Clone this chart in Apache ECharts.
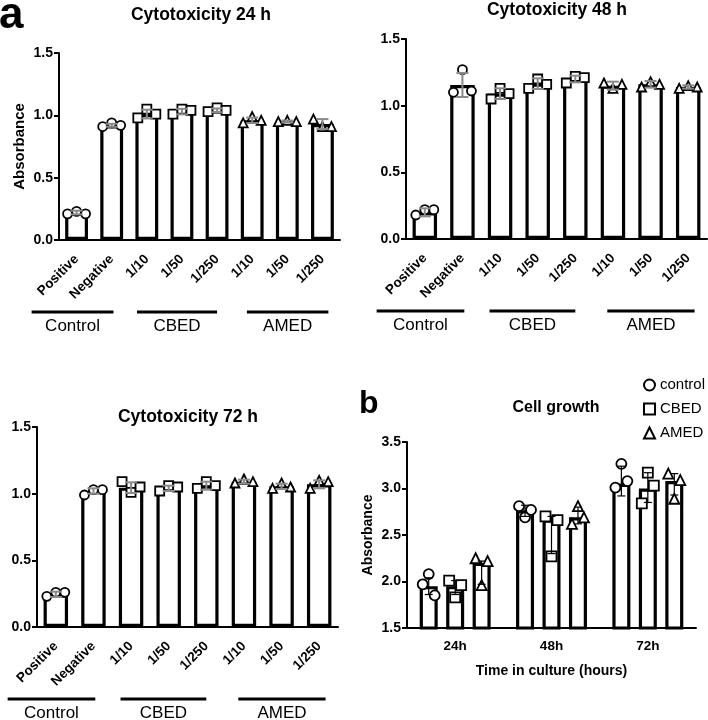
<!DOCTYPE html>
<html><head><meta charset="utf-8">
<script src="https://cdn.jsdelivr.net/npm/echarts@6/dist/echarts.min.js"></script>
<style>html,body{margin:0;padding:0;background:#fff}#c{width:708px;height:720px}</style>
</head><body><div id="c"></div>
<script>
// ---------- data ----------
const cytoCategories = ['Positive','Negative','1/10','1/50','1/250','1/10','1/50','1/250'];
const cytoGroupNames = ['Control','CBED','AMED'];
const cytoGroupOfCategory = [0,0,1,1,1,2,2,2];
const cytoTitles = ['Cytotoxicity 24 h','Cytotoxicity 48 h','Cytotoxicity 72 h'];
const cytoYTicks = [0, 1.5, 0.5];

const mean24 = [0.22, 0.92, 1.01, 1.03, 1.04, 0.96, 0.95, 0.93];
const sd24   = [0.015,0.012,0.035,0.022,0.015,0.022,0.008,0.04];
const pts24  = [[0.21,0.23,0.21],[0.91,0.94,0.92],[0.98,1.05,1.01],[1.01,1.05,1.04],[1.03,1.06,1.04],[0.94,0.99,0.96],[0.95,0.96,0.95],[0.97,0.91,0.91]];

const mean48 = [0.20, 1.155, 1.09, 1.165, 1.20, 1.15, 1.16, 1.14];
const sd48   = [0.03, 0.09, 0.04, 0.04, 0.025, 0.03, 0.025, 0.012];
const pts48  = [[0.18,0.22,0.22],[1.10,1.27,1.11],[1.05,1.13,1.09],[1.13,1.20,1.16],[1.17,1.22,1.21],[1.17,1.13,1.16],[1.14,1.18,1.16],[1.13,1.15,1.14]];

const mean72 = [0.245, 1.02, 1.045, 1.04, 1.06, 1.09, 1.055, 1.07];
const sd72   = [0.02, 0.02, 0.04, 0.02, 0.03, 0.015, 0.02, 0.03];
const pts72  = [[0.23,0.26,0.26],[0.99,1.03,1.03],[1.09,1.01,1.05],[1.02,1.06,1.05],[1.04,1.09,1.06],[1.08,1.11,1.09],[1.04,1.08,1.05],[1.04,1.10,1.09]];

const growthTimes = ['24h','48h','72h'];
const growthGroups = ['control','CBED','AMED'];
const growthMean = { control:[1.95, 2.765, 3.05], CBED:[1.95, 2.665, 3.00], AMED:[2.20, 2.69, 3.08] };
const growthLo   = { control:[1.86, 2.70, 2.92], CBED:[1.86, 2.30, 2.85], AMED:[1.97, 2.62, 2.93] };
const growthHi   = { control:[2.04, 2.82, 3.24], CBED:[2.01, 2.70, 3.17], AMED:[2.22, 2.80, 3.16] };
const growthPts  = {
  control:[[1.97,2.08,1.85],[2.81,2.69,2.77],[3.01,3.265,3.08]],
  CBED:   [[2.01,1.83,1.96],[2.70,2.27,2.66],[2.84,3.17,3.03]],
  AMED:   [[2.25,1.96,2.22],[2.62,2.81,2.69],[3.16,2.89,3.09]]
};
const growthYTicks = [1.5, 3.5, 0.5];

// ---------- styling ----------
const FONT = '"Liberation Sans", Arial, Helvetica, sans-serif';
const SYMBOLS = ['circle','rect','triangle'];
const chart = echarts.init(document.getElementById('c'));

const grids = [
  {left:59, top:53, width:281, height:187},
  {left:406, top:39, width:301, height:200},
  {left:37, top:427, width:301, height:200},
  {left:407, top:442, width:289, height:186}
];

const axisLineStyle = {color:'#000', width:2};
const xAxes = [], yAxes = [], series = [];

function errRender(color, lw, cap, offset) {
  return function (params, api) {
    const x = api.value(0), lo = api.value(1), hi = api.value(2);
    const pTop = api.coord([x, hi]), pBot = api.coord([x, lo]);
    const cx = pTop[0] + offset;
    const st = {stroke: color, lineWidth: lw};
    return {type:'group', children:[
      {type:'line', shape:{x1:cx, y1:pTop[1], x2:cx, y2:pBot[1]}, style:st},
      {type:'line', shape:{x1:cx-cap, y1:pTop[1], x2:cx+cap, y2:pTop[1]}, style:st},
      {type:'line', shape:{x1:cx-cap, y1:pBot[1], x2:cx+cap, y2:pBot[1]}, style:st}
    ]};
  };
}

const cytoData = [[mean24, sd24, pts24],[mean48, sd48, pts48],[mean72, sd72, pts72]];
const jitterA = [-9, 0, 9];
cytoData.forEach(function (d, k) {
  const means = d[0], sds = d[1], pts = d[2];
  xAxes.push({
    type:'category', gridIndex:k, data:cytoCategories,
    axisLine:{lineStyle:axisLineStyle},
    axisTick:{alignWithLabel:true, length:5, lineStyle:{color:'#000', width:2}},
    axisLabel:{rotate:45, interval:0, margin:17, color:'#000', fontWeight:'bold', fontSize:13.5, fontFamily:FONT}
  });
  yAxes.push({
    type:'value', gridIndex:k, min:cytoYTicks[0], max:cytoYTicks[1], interval:cytoYTicks[2],
    name: k === 0 ? 'Absorbance' : '', nameLocation:'middle', nameGap:32,
    nameTextStyle:{color:'#000', fontWeight:'bold', fontSize:15, fontFamily:FONT},
    axisLine:{show:true, lineStyle:axisLineStyle},
    axisTick:{show:true, length:5, lineStyle:{color:'#000', width:2}},
    splitLine:{show:false},
    axisLabel:{color:'#000', fontWeight:'bold', fontSize:14, fontFamily:FONT, margin:6,
      formatter: function (v) { return v.toFixed(1); }}
  });
  series.push({
    type:'bar', name:'bar'+k, xAxisIndex:k, yAxisIndex:k, data:means, barWidth:'65%',
    itemStyle:{color:'#fff', borderColor:'#000', borderWidth:3.2}, z:2, silent:true
  });
  const sData = [];
  pts.forEach(function (arr, i) {
    arr.forEach(function (v, r) {
      sData.push({value:[i, v], symbol:SYMBOLS[cytoGroupOfCategory[i]], symbolOffset:[jitterA[r], 0]});
    });
  });
  series.push({
    type:'scatter', name:'pts'+k, xAxisIndex:k, yAxisIndex:k, data:sData, symbolSize:9,
    itemStyle:{color:'#fff', borderColor:'#000', borderWidth:1.8, opacity:1}, z:3, silent:true
  });
  series.push({
    type:'custom', name:'err'+k, xAxisIndex:k, yAxisIndex:k, z:4, silent:true,
    renderItem: errRender('#8a8a8a', 2, 6, 0),
    data: means.map(function (m, i) { return [i, m - sds[i], m + sds[i]]; })
  });
});

// Panel b
xAxes.push({
  type:'category', gridIndex:3, data:growthTimes,
  name:'Time in culture (hours)', nameLocation:'middle', nameGap:36,
  nameTextStyle:{color:'#000', fontWeight:'bold', fontSize:14, fontFamily:FONT},
  axisLine:{lineStyle:axisLineStyle},
  axisTick:{alignWithLabel:true, length:4, lineStyle:{color:'#000', width:2}},
  axisLabel:{color:'#000', fontWeight:'bold', fontSize:13.5, fontFamily:FONT, margin:11}
});
yAxes.push({
  type:'value', gridIndex:3, min:growthYTicks[0], max:growthYTicks[1], interval:growthYTicks[2],
  name:'Absorbance', nameLocation:'middle', nameGap:32,
  nameTextStyle:{color:'#000', fontWeight:'bold', fontSize:14, fontFamily:FONT},
  axisLine:{show:true, lineStyle:axisLineStyle},
  axisTick:{show:true, length:5, lineStyle:{color:'#000', width:2}},
  splitLine:{show:false},
  axisLabel:{color:'#000', fontWeight:'bold', fontSize:14, fontFamily:FONT, margin:6,
    formatter: function (v) { return v.toFixed(1); }}
});
const BW = 18, GAP = 0.47;
const jitterB = [-6, 0, 6];
growthGroups.forEach(function (g, gi) {
  series.push({
    type:'bar', name:g + ' mean', xAxisIndex:3, yAxisIndex:3, data:growthMean[g],
    barWidth:BW, barGap:(GAP*100)+'%',
    itemStyle:{color:'#fff', borderColor:'#000', borderWidth:3.2}, z:2, silent:true
  });
});
growthGroups.forEach(function (g, gi) {
  const off = (gi - 1) * BW * (1 + GAP);
  const sData = [];
  growthPts[g].forEach(function (arr, i) {
    arr.forEach(function (v, r) { sData.push({value:[i, v], symbolOffset:[off + jitterB[r], 0]}); });
  });
  series.push({
    type:'scatter', name:g, xAxisIndex:3, yAxisIndex:3, data:sData, symbol:SYMBOLS[gi], symbolSize:10,
    itemStyle:{color:'#fff', borderColor:'#000', borderWidth:1.8, opacity:1}, z:3, silent:true
  });
  series.push({
    type:'custom', name:g + ' err', xAxisIndex:3, yAxisIndex:3, z:4, silent:true,
    renderItem: errRender('#000', 1.2, 4, off),
    data: growthMean[g].map(function (m, i) { return [i, growthLo[g][i], growthHi[g][i]]; })
  });
});

chart.setOption({
  animation:false,
  backgroundColor:'#fff',
  textStyle:{fontFamily:FONT},
  grid: grids.map(function (g) { return Object.assign({containLabel:false}, g); }),
  xAxis: xAxes, yAxis: yAxes, series: series,
  legend:{
    data:growthGroups, orient:'vertical', left:638, top:371, itemGap:6,
    itemWidth:11, itemHeight:11, selectedMode:false,
    textStyle:{color:'#000', fontSize:15, fontFamily:FONT, lineHeight:18},
    itemStyle:{color:'#fff', borderColor:'#000', borderWidth:2}
  }
});

// ---------- annotations positioned via axis conversion ----------
const graphics = [];
function txt(x, y, text, size, weight, align, valign) {
  graphics.push({type:'text', x:x, y:y, silent:true,
    style:{text:text, fill:'#000', fontSize:size, fontWeight:weight, fontFamily:FONT, align:align||'center', verticalAlign:valign||'middle'}});
}
const spans = [[-1.28, 1.05],[1.72, 4.0],[4.85, 7.17]];
for (let k = 0; k < 3; k++) {
  const c0 = chart.convertToPixel({xAxisIndex:k}, 0);
  const c1 = chart.convertToPixel({xAxisIndex:k}, 1);
  const band = c1 - c0;
  const yBase = chart.convertToPixel({yAxisIndex:k}, 0);
  const ly = yBase + 72;
  spans.forEach(function (s, gi) {
    const x1 = c0 + s[0]*band, x2 = c0 + s[1]*band;
    graphics.push({type:'line', silent:true, shape:{x1:x1, y1:ly, x2:x2, y2:ly}, style:{stroke:'#000', lineWidth:3}});
    txt((x1 + x2)/2, ly + 14, cytoGroupNames[gi], 17, 'normal');
  });
}
txt(201, 15, cytoTitles[0], 17.5, 'bold');
txt(557, 10, cytoTitles[1], 17.5, 'bold');
txt(188, 417, cytoTitles[2], 17.5, 'bold');
txt(556, 408, 'Cell growth', 16, 'bold');
txt(-1, 16, 'a', 44, 'bold', 'left');
txt(359, 404, 'b', 32, 'bold', 'left');
chart.setOption({graphic: graphics});
</script>
</body></html>
